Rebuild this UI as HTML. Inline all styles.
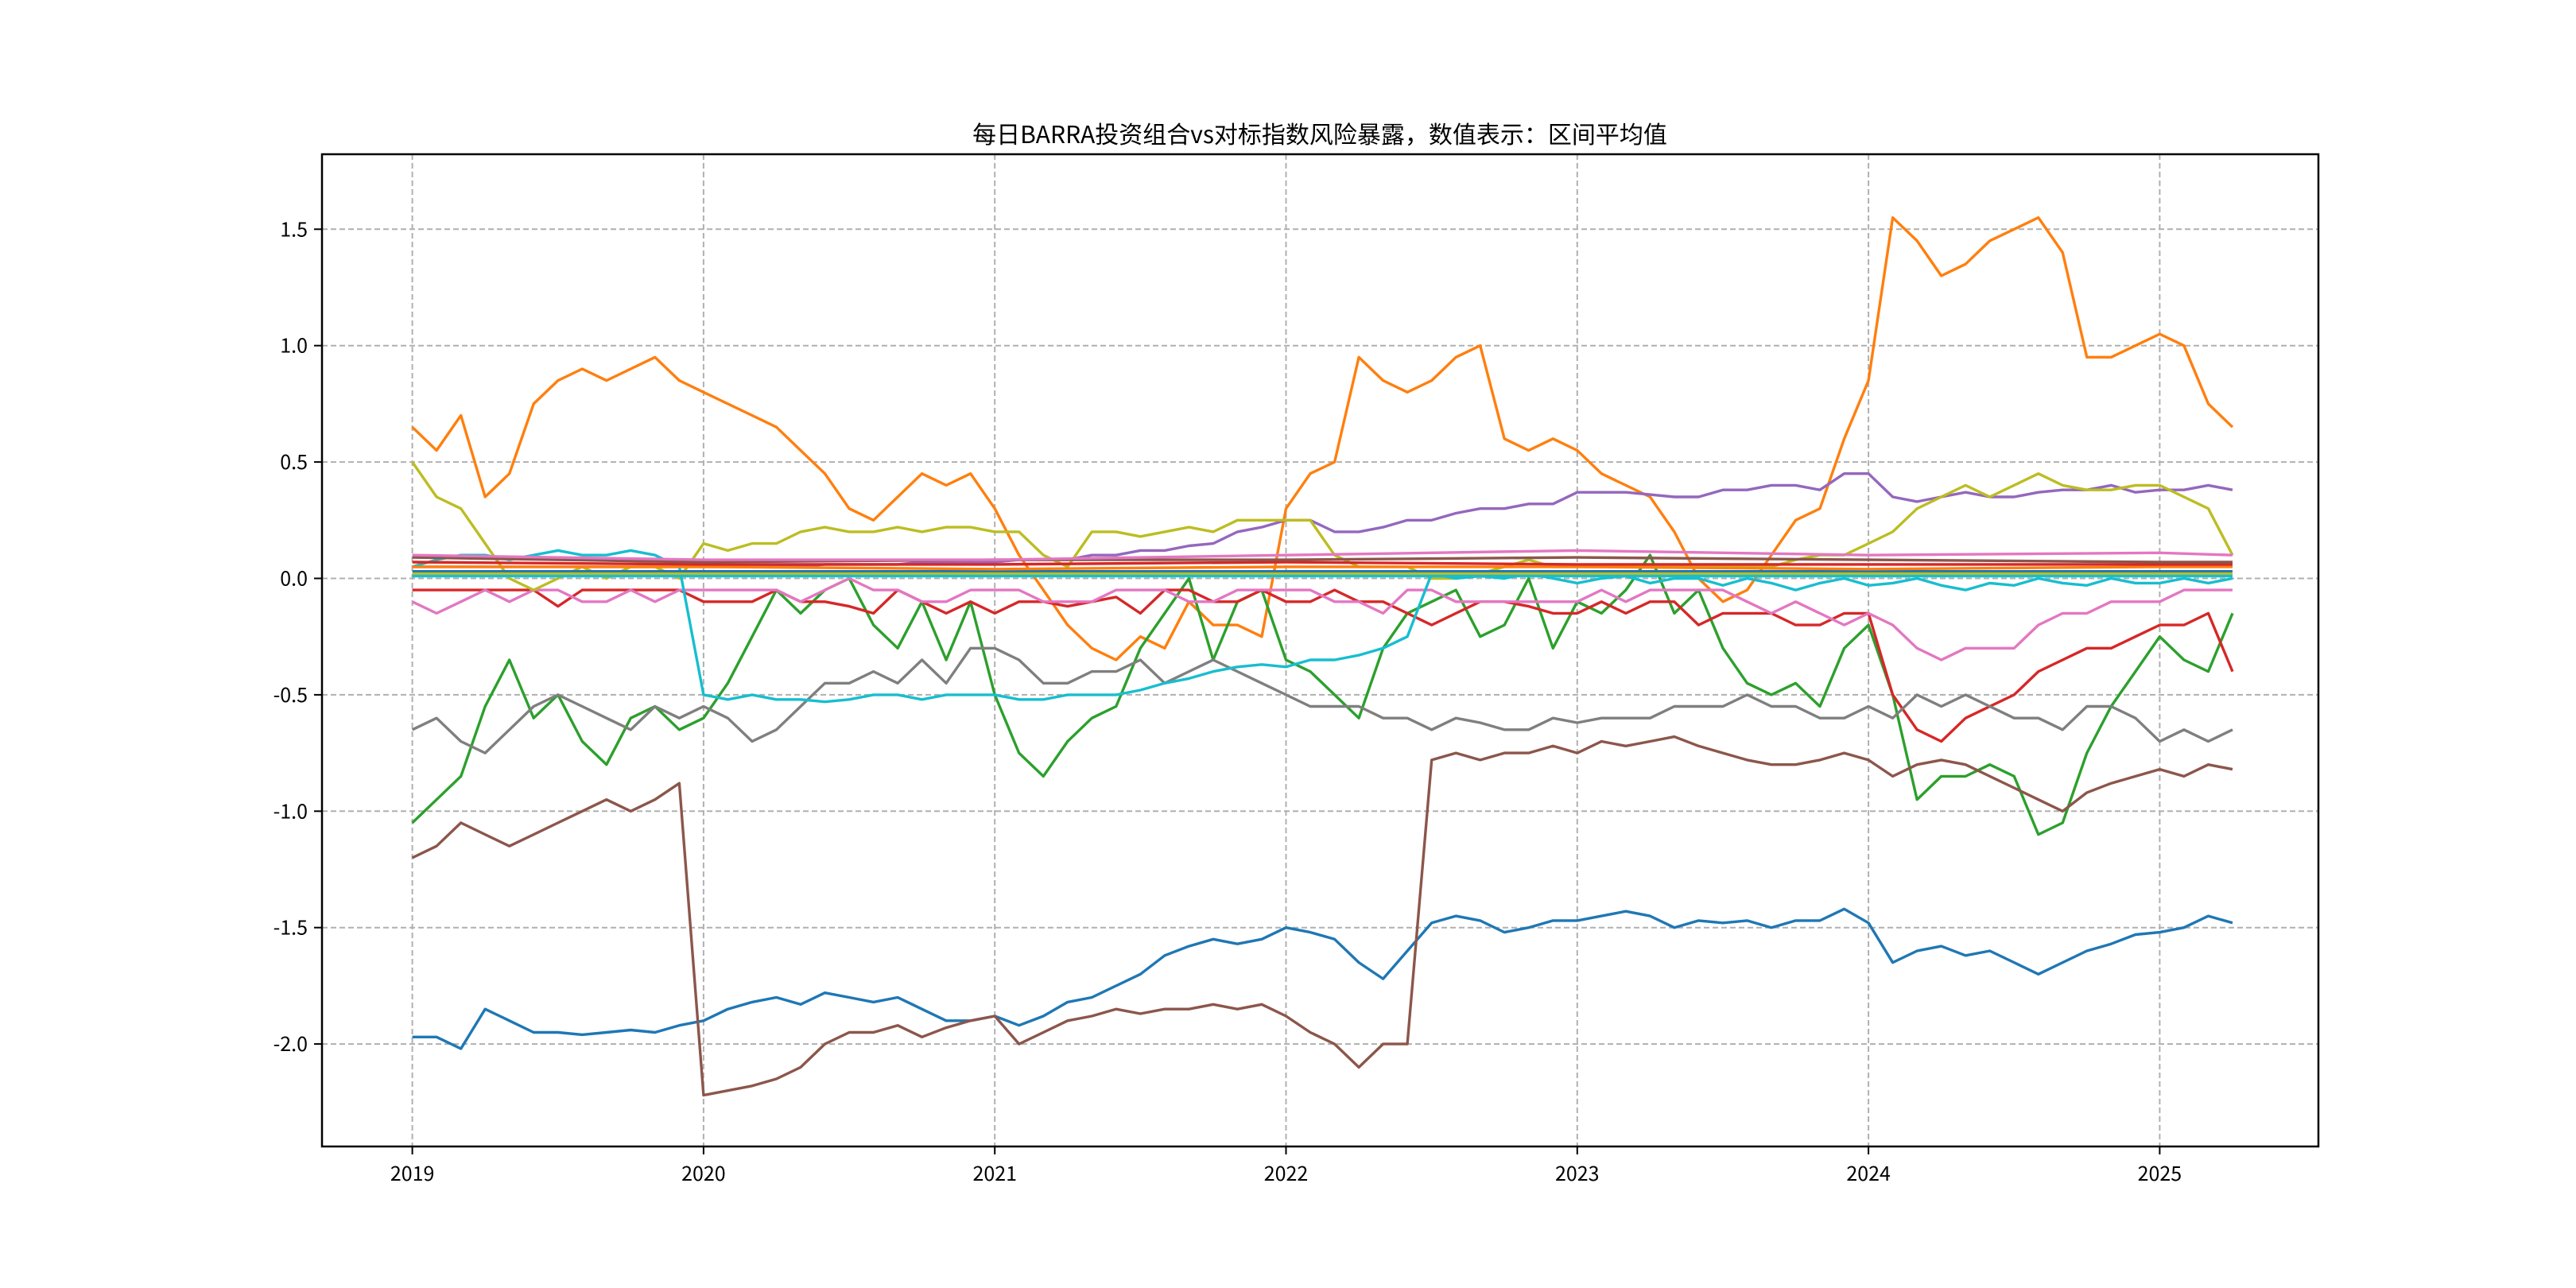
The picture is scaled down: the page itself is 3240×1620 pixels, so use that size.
<!DOCTYPE html>
<html><head><meta charset="utf-8"><style>
html,body{margin:0;padding:0;background:#fff;}
svg{display:block;font-family:"WenQuanYi Zen Hei","Noto Sans CJK SC","Liberation Sans",sans-serif;}
</style></head><body>
<svg id="chart" width="3240" height="1620" viewBox="0 0 3240 1620">
<rect x="0" y="0" width="3240" height="1620" fill="#fff"/>
<text x="1660" y="180" text-anchor="middle" font-size="30" fill="#000">每日BARRA投资组合vs对标指数风险暴露，数值表示：区间平均值</text>
<g id="grid"></g>
<g id="series"></g>
<g id="axes"></g>
</svg>
<script>
const xTicks=[2019,2020,2021,2022,2023,2024,2025];
const xTickLabels=["2019","2020","2021","2022","2023","2024","2025"];
const yTicks=[-2.0,-1.5,-1.0,-0.5,0.0,0.5,1.0,1.5];
const yTickLabels=["-2.0","-1.5","-1.0","-0.5","0.0","0.5","1.0","1.5"];
const bandDates=[2019,2020,2021,2022,2023,2024,2025,2025.25];
const orange=[0.65,0.55,0.7,0.35,0.45,0.75,0.85,0.9,0.85,0.9,0.95,0.85,0.8,0.75,0.7,0.65,0.55,0.45,0.3,0.25,0.35,0.45,0.4,0.45,0.3,0.1,-0.05,-0.2,-0.3,-0.35,-0.25,-0.3,-0.1,-0.2,-0.2,-0.25,0.3,0.45,0.5,0.95,0.85,0.8,0.85,0.95,1.0,0.6,0.55,0.6,0.55,0.45,0.4,0.35,0.2,0.0,-0.1,-0.05,0.1,0.25,0.3,0.6,0.85,1.55,1.45,1.3,1.35,1.45,1.5,1.55,1.4,0.95,0.95,1.0,1.05,1.0,0.75,0.65];
const blue=[-1.97,-1.97,-2.02,-1.85,-1.9,-1.95,-1.95,-1.96,-1.95,-1.94,-1.95,-1.92,-1.9,-1.85,-1.82,-1.8,-1.83,-1.78,-1.8,-1.82,-1.8,-1.85,-1.9,-1.9,-1.88,-1.92,-1.88,-1.82,-1.8,-1.75,-1.7,-1.62,-1.58,-1.55,-1.57,-1.55,-1.5,-1.52,-1.55,-1.65,-1.72,-1.6,-1.48,-1.45,-1.47,-1.52,-1.5,-1.47,-1.47,-1.45,-1.43,-1.45,-1.5,-1.47,-1.48,-1.47,-1.5,-1.47,-1.47,-1.42,-1.48,-1.65,-1.6,-1.58,-1.62,-1.6,-1.65,-1.7,-1.65,-1.6,-1.57,-1.53,-1.52,-1.5,-1.45,-1.48];
const brown=[-1.2,-1.15,-1.05,-1.1,-1.15,-1.1,-1.05,-1.0,-0.95,-1.0,-0.95,-0.88,-2.22,-2.2,-2.18,-2.15,-2.1,-2.0,-1.95,-1.95,-1.92,-1.97,-1.93,-1.9,-1.88,-2.0,-1.95,-1.9,-1.88,-1.85,-1.87,-1.85,-1.85,-1.83,-1.85,-1.83,-1.88,-1.95,-2.0,-2.1,-2.0,-2.0,-0.78,-0.75,-0.78,-0.75,-0.75,-0.72,-0.75,-0.7,-0.72,-0.7,-0.68,-0.72,-0.75,-0.78,-0.8,-0.8,-0.78,-0.75,-0.78,-0.85,-0.8,-0.78,-0.8,-0.85,-0.9,-0.95,-1.0,-0.92,-0.88,-0.85,-0.82,-0.85,-0.8,-0.82];
const green=[-1.05,-0.95,-0.85,-0.55,-0.35,-0.6,-0.5,-0.7,-0.8,-0.6,-0.55,-0.65,-0.6,-0.45,-0.25,-0.05,-0.15,-0.05,0.0,-0.2,-0.3,-0.1,-0.35,-0.1,-0.5,-0.75,-0.85,-0.7,-0.6,-0.55,-0.3,-0.15,0.0,-0.35,-0.1,-0.05,-0.35,-0.4,-0.5,-0.6,-0.3,-0.15,-0.1,-0.05,-0.25,-0.2,0.0,-0.3,-0.1,-0.15,-0.05,0.1,-0.15,-0.05,-0.3,-0.45,-0.5,-0.45,-0.55,-0.3,-0.2,-0.5,-0.95,-0.85,-0.85,-0.8,-0.85,-1.1,-1.05,-0.75,-0.55,-0.4,-0.25,-0.35,-0.4,-0.15];
const gray=[-0.65,-0.6,-0.7,-0.75,-0.65,-0.55,-0.5,-0.55,-0.6,-0.65,-0.55,-0.6,-0.55,-0.6,-0.7,-0.65,-0.55,-0.45,-0.45,-0.4,-0.45,-0.35,-0.45,-0.3,-0.3,-0.35,-0.45,-0.45,-0.4,-0.4,-0.35,-0.45,-0.4,-0.35,-0.4,-0.45,-0.5,-0.55,-0.55,-0.55,-0.6,-0.6,-0.65,-0.6,-0.62,-0.65,-0.65,-0.6,-0.62,-0.6,-0.6,-0.6,-0.55,-0.55,-0.55,-0.5,-0.55,-0.55,-0.6,-0.6,-0.55,-0.6,-0.5,-0.55,-0.5,-0.55,-0.6,-0.6,-0.65,-0.55,-0.55,-0.6,-0.7,-0.65,-0.7,-0.65];
const red=[-0.05,-0.05,-0.05,-0.05,-0.05,-0.05,-0.12,-0.05,-0.05,-0.05,-0.05,-0.05,-0.1,-0.1,-0.1,-0.05,-0.1,-0.1,-0.12,-0.15,-0.05,-0.1,-0.15,-0.1,-0.15,-0.1,-0.1,-0.12,-0.1,-0.08,-0.15,-0.05,-0.05,-0.1,-0.1,-0.05,-0.1,-0.1,-0.05,-0.1,-0.1,-0.15,-0.2,-0.15,-0.1,-0.1,-0.12,-0.15,-0.15,-0.1,-0.15,-0.1,-0.1,-0.2,-0.15,-0.15,-0.15,-0.2,-0.2,-0.15,-0.15,-0.5,-0.65,-0.7,-0.6,-0.55,-0.5,-0.4,-0.35,-0.3,-0.3,-0.25,-0.2,-0.2,-0.15,-0.4];
const pink=[-0.1,-0.15,-0.1,-0.05,-0.1,-0.05,-0.05,-0.1,-0.1,-0.05,-0.1,-0.05,-0.05,-0.05,-0.05,-0.05,-0.1,-0.05,0,-0.05,-0.05,-0.1,-0.1,-0.05,-0.05,-0.05,-0.1,-0.1,-0.1,-0.05,-0.05,-0.05,-0.1,-0.1,-0.05,-0.05,-0.05,-0.05,-0.1,-0.1,-0.15,-0.05,-0.05,-0.1,-0.1,-0.1,-0.1,-0.1,-0.1,-0.05,-0.1,-0.05,-0.05,-0.05,-0.05,-0.1,-0.15,-0.1,-0.15,-0.2,-0.15,-0.2,-0.3,-0.35,-0.3,-0.3,-0.3,-0.2,-0.15,-0.15,-0.1,-0.1,-0.1,-0.05,-0.05,-0.05];
const cyan=[0.05,0.08,0.1,0.1,0.08,0.1,0.12,0.1,0.1,0.12,0.1,0.05,-0.5,-0.52,-0.5,-0.52,-0.52,-0.53,-0.52,-0.5,-0.5,-0.52,-0.5,-0.5,-0.5,-0.52,-0.52,-0.5,-0.5,-0.5,-0.48,-0.45,-0.43,-0.4,-0.38,-0.37,-0.38,-0.35,-0.35,-0.33,-0.3,-0.25,0.02,0.0,0.01,0.0,0.02,0.0,-0.02,0.0,0.01,-0.02,0.0,0.0,-0.03,0.0,-0.02,-0.05,-0.02,0.0,-0.03,-0.02,0.0,-0.03,-0.05,-0.02,-0.03,0.0,-0.02,-0.03,0.0,-0.02,-0.02,0.0,-0.02,0.0];
const olive=[0.5,0.35,0.3,0.15,0.0,-0.05,0.0,0.05,0.0,0.05,0.05,0.0,0.15,0.12,0.15,0.15,0.2,0.22,0.2,0.2,0.22,0.2,0.22,0.22,0.2,0.2,0.1,0.05,0.2,0.2,0.18,0.2,0.22,0.2,0.25,0.25,0.25,0.25,0.1,0.05,0.05,0.05,0.0,0.0,0.02,0.05,0.08,0.05,0.05,0.05,0.05,0.05,0.05,0.05,0.05,0.05,0.05,0.08,0.1,0.1,0.15,0.2,0.3,0.35,0.4,0.35,0.4,0.45,0.4,0.38,0.38,0.4,0.4,0.35,0.3,0.1];
const purple=[0.05,0.05,0.05,0.05,0.05,0.05,0.05,0.05,0.05,0.05,0.05,0.05,0.05,0.05,0.05,0.05,0.05,0.06,0.06,0.06,0.06,0.07,0.07,0.07,0.07,0.08,0.08,0.08,0.1,0.1,0.12,0.12,0.14,0.15,0.2,0.22,0.25,0.25,0.2,0.2,0.22,0.25,0.25,0.28,0.3,0.3,0.32,0.32,0.37,0.37,0.37,0.36,0.35,0.35,0.38,0.38,0.4,0.4,0.38,0.45,0.45,0.35,0.33,0.35,0.37,0.35,0.35,0.37,0.38,0.38,0.4,0.37,0.38,0.38,0.4,0.38];
const band1=[0.03,0.03,0.03,0.03,0.03,0.03,0.03,0.03];
const band2=[0.05,0.05,0.04,0.05,0.05,0.04,0.05,0.05];
const band3=[0.07,0.06,0.06,0.07,0.06,0.06,0.06,0.06];
const band4=[0.09,0.07,0.08,0.08,0.09,0.08,0.07,0.07];
const band5=[0.02,0.02,0.02,0.02,0.02,0.02,0.02,0.02];
const band6=[0.1,0.08,0.08,0.1,0.12,0.1,0.11,0.1];
const band7=[0.01,0.01,0.01,0.01,0.01,0.01,0.01,0.01];

const L=405,R=2916,T=194,B=1442;
function xs(d){return 518.6+(d-2019)*366.3;}
function ys(v){return 727.5-v*292.8;}
const NS="http://www.w3.org/2000/svg";
function mk(tag,attrs,parent){const e=document.createElementNS(NS,tag);for(const k in attrs)e.setAttribute(k,attrs[k]);parent.appendChild(e);return e;}
const grid=document.getElementById('grid'),axes=document.getElementById('axes'),ser=document.getElementById('series');
xTicks.forEach((t,i)=>{
  const g=mk('line',{x1:xs(t),x2:xs(t),y1:T,y2:B,stroke:'#b0b0b0','stroke-width':2,'stroke-dasharray':'7,4'},grid);
  
  
  const tk=mk('line',{x1:xs(t),x2:xs(t),y1:B,y2:B+10,stroke:'#000','stroke-width':2},axes);
  
  
  const tx=mk('text',{x:xs(t),y:B+43,'text-anchor':'middle','font-size':25,fill:'#000'},axes);
  tx.textContent=xTickLabels[i];
  
  
});
yTicks.forEach((t,i)=>{
  const g=mk('line',{x1:L,x2:R,y1:ys(t),y2:ys(t),stroke:'#b0b0b0','stroke-width':2,'stroke-dasharray':'7,4'},grid);
  
  
  const tk=mk('line',{x1:L-10,x2:L,y1:ys(t),y2:ys(t),stroke:'#000','stroke-width':2},axes);
  
  
  const tx=mk('text',{x:L-18,y:ys(t)+9,'text-anchor':'end','font-size':25,fill:'#000'},axes);
  tx.textContent=yTickLabels[i];
  
  
});
const fr=mk('rect',{x:L,y:T,width:R-L,height:B-T,fill:'none',stroke:'#000','stroke-width':2.5},axes);


function draw(dates,vals,color,name){
  const d=vals.map((v,i)=>(i?'L':'M')+xs(dates[i]).toFixed(1)+','+ys(v).toFixed(1)).join(' ');
  const p=mk('path',{d:d,fill:'none',stroke:color,'stroke-width':3.4,'stroke-linejoin':'round'},ser);
  
  
}
const months=blue.map((_,i)=>2019+i/12);
draw(months,blue,'#1f77b4','series-blue');
draw(months,orange,'#ff7f0e','series-orange');
draw(months,green,'#2ca02c','series-green');
draw(months,red,'#d62728','series-red');
draw(months,purple,'#9467bd','series-purple');
draw(months,brown,'#8c564b','series-brown');
draw(months,pink,'#e377c2','series-pink');
draw(months,gray,'#7f7f7f','series-gray');
draw(months,olive,'#bcbd22','series-olive');
draw(months,cyan,'#17becf','series-cyan');
draw(bandDates,band1,'#1f77b4','band-1');
draw(bandDates,band2,'#ff7f0e','band-2');
draw(bandDates,band3,'#d62728','band-3');
draw(bandDates,band4,'#8c564b','band-4');
draw(bandDates,band5,'#bcbd22','band-5');
draw(bandDates,band6,'#e377c2','band-6');
draw(bandDates,band7,'#17becf','band-7');
</script>
</body></html>
